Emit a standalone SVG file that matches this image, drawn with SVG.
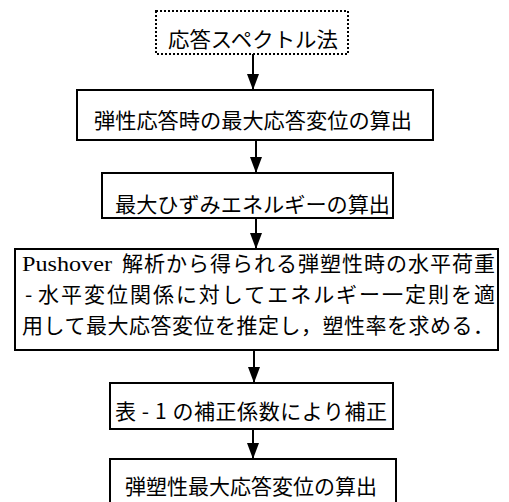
<svg xmlns="http://www.w3.org/2000/svg" width="509" height="502" viewBox="0 0 509 502">
<style>
.box{fill:#fff;stroke:#000;stroke-width:2}
.dot{fill:#fff;stroke:#000;stroke-width:2;stroke-dasharray:2 2}
.t{font-family:"Noto Sans CJK JP","Noto Sans",sans-serif;font-size:21px;fill:#000}
.s{font-family:"Liberation Serif","Times New Roman",serif;font-size:21px;fill:#000}
.c{stroke:#000;stroke-width:2;fill:none}
</style>
<defs>
<marker id="ah" markerUnits="userSpaceOnUse" markerWidth="16" markerHeight="12" refX="16" refY="6" orient="auto" viewBox="0 0 16 12">
<path d="M0,0 L16,6 L0,12 Z" fill="#000"/>
</marker>
</defs>
<rect width="509" height="502" fill="#fff"/>
<g id="connectors">
<line class="c" x1="253" y1="54" x2="253" y2="90" marker-end="url(#ah)"/>
<line class="c" x1="256" y1="140" x2="256" y2="173" marker-end="url(#ah)"/>
<line class="c" x1="256" y1="218" x2="256" y2="249" marker-end="url(#ah)"/>
<line class="c" x1="254" y1="350" x2="254" y2="383" marker-end="url(#ah)"/>
<line class="c" x1="253" y1="429" x2="253" y2="459" marker-end="url(#ah)"/>
</g>
<g id="n1">
<rect class="dot" x="156" y="11" width="192" height="43"/>
<text class="t" x="168" y="47" textLength="170" lengthAdjust="spacingAndGlyphs">応答スペクトル法</text>
</g>
<g id="n2">
<rect class="box" x="77" y="90" width="356" height="50"/>
<text class="t" x="94" y="128" textLength="318" lengthAdjust="spacingAndGlyphs">弾性応答時の最大応答変位の算出</text>
</g>
<g id="n3">
<rect class="box" x="102" y="173" width="291" height="45"/>
<text class="t" x="115" y="212" textLength="275" lengthAdjust="spacingAndGlyphs">最大ひずみエネルギーの算出</text>
</g>
<g id="n4">
<rect class="box" x="15" y="249" width="483" height="101"/>
<text class="s" x="22" y="271" textLength="90" lengthAdjust="spacingAndGlyphs">Pushover</text>
<text class="t" x="122" y="271" textLength="373" lengthAdjust="spacing">解析から得られる弾塑性時の水平荷重</text>
<text class="t" x="25" y="302">-</text>
<text class="t" x="38" y="302" textLength="457" lengthAdjust="spacing">水平変位関係に対してエネルギー一定則を適</text>
<text class="t" x="22" y="333" textLength="472" lengthAdjust="spacing">用して最大応答変位を推定し，塑性率を求める．</text>
</g>
<g id="n5">
<rect class="box" x="110" y="383" width="283" height="46"/>
<text class="t" x="115" y="419" textLength="272" lengthAdjust="spacing">表 - 1 の補正係数により補正</text>
</g>
<g id="n6">
<rect class="box" x="110" y="459" width="286" height="60"/>
<text class="t" x="125" y="494" textLength="252" lengthAdjust="spacingAndGlyphs">弾塑性最大応答変位の算出</text>
</g>
</svg>
